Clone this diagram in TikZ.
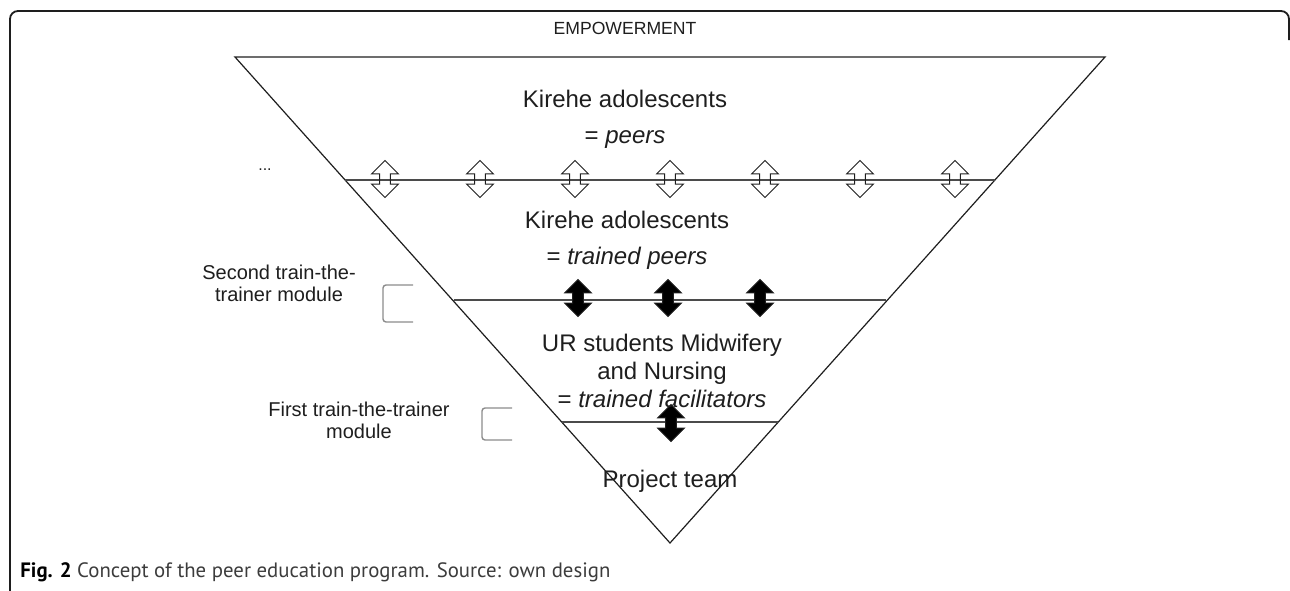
\documentclass[tikz,border=0pt]{standalone}
\usepackage{fontspec}
\setmainfont{Liberation Sans}
\newfontfamily\captionfont{PT Sans}
\usetikzlibrary{
    arrows.meta,
    positioning,
    shapes.arrows
}
\definecolor{ink}{RGB}{30,30,30}
\definecolor{rule}{RGB}{75,75,75}
\definecolor{muted}{RGB}{140,140,140}
\definecolor{captext}{RGB}{60,60,60}
\tikzset{
    line cap=round,
    line join=round,
    frame/.style={
        draw=ink,
        line width=0.9pt,
        rounded corners=4pt
    },
    pyramid/.style={
        draw=ink,
        line width=0.6pt
    },
    levelline/.style={
        draw=rule,
        line width=0.8pt
    },
    levelname/.style={
        font=\fontsize{12}{14}\selectfont,
        text=ink,
        align=center,
        inner sep=0pt
    },
    sidelabel/.style={
        font=\fontsize{10}{11}\selectfont,
        text=ink,
        align=center,
        inner sep=0pt
    },
    exchange/.style={
        double arrow,
        shape border rotate=90,
        draw=ink,
        line width=0.5pt,
        inner xsep=2.4pt,
        inner ysep=0pt,
        minimum height=18.5pt,
        double arrow head extend=4pt,
        double arrow tip angle=90
    },
    hollow/.style={exchange, fill=none},
    solid/.style={exchange, fill=black},
    bracket/.style={
        draw=muted,
        line width=0.7pt,
        rounded corners=1.5pt
    },
    figcaption/.style={
        font=\captionfont\fontsize{10.4}{12}\selectfont,
        text=captext,
        anchor=west,
        inner sep=0pt
    }
}

\begin{document}
\begin{tikzpicture}[x=0.5pt, y=-0.5pt]

\useasboundingbox (0,0) rectangle (1290,590);

% Figure frame, open at the bottom
\draw[frame] (26,600) -- (10,600) -- (10,11) -- (1289,11) -- (1289,40);

% Inverted pyramid
\coordinate (tl) at (235,57);
\coordinate (tr) at (1105,57);
\coordinate (tip) at (670,543);
\draw[pyramid] (tl) -- (tr) -- (tip) -- cycle;

% Layer boundaries
\coordinate (peersL) at (345,180);
\coordinate (peersR) at (995,180);
\coordinate (trainedL) at (454,300);
\coordinate (trainedR) at (886,300);
\coordinate (teamL) at (562,422);
\coordinate (teamR) at (778,422);
\draw[levelline] (peersL) -- (peersR);
\draw[levelline] (trainedL) -- (trainedR);
\draw[levelline] (teamL) -- (teamR);

% Exchange between layers
\foreach \k [count=\i] in {-3,...,3}
    \node[hollow] (peerarrow\i) at ({670+95*\k},179) {};
\foreach \xx [count=\i] in {578,668,760}
    \node[solid] (trainarrow\i) at (\xx,298) {};
\node[solid] (teamarrow) at (671,423) {};

% Layer names
\node[levelname, font=\fontsize{8.8}{10}\selectfont] (empower) at (625,28) {EMPOWERMENT};
\node[levelname] (peers) at (625,119) {Kirehe adolescents\\[4pt]= \textit{peers}};
\node[levelname] (trained) at (627,240) {Kirehe adolescents\\[4pt]= \textit{trained peers}};
\node[levelname] (students) at (662,371) {UR students Midwifery\\and Nursing\\= \textit{trained facilitators}};
\node[levelname] (team) at (670,481) {Project team};
\node[sidelabel, font=\fontsize{8}{10}\selectfont] (more) at (265,170) {...};

% Training modules
\node[sidelabel] (second) at (279,283) {Second train-the-\\trainer module};
\node[sidelabel] (first) at (359,420) {First train-the-trainer\\module};
\draw[bracket] (413,285) -- (383,285) -- (383,322) -- (413,322);
\draw[bracket] (512,408) -- (482,408) -- (482,440) -- (512,440);

% Caption
\node[figcaption] (caption) at (20,572) {{\color{black}\bfseries Fig. 2} Concept of the peer education program. Source: own design};

\end{tikzpicture}
\end{document}
